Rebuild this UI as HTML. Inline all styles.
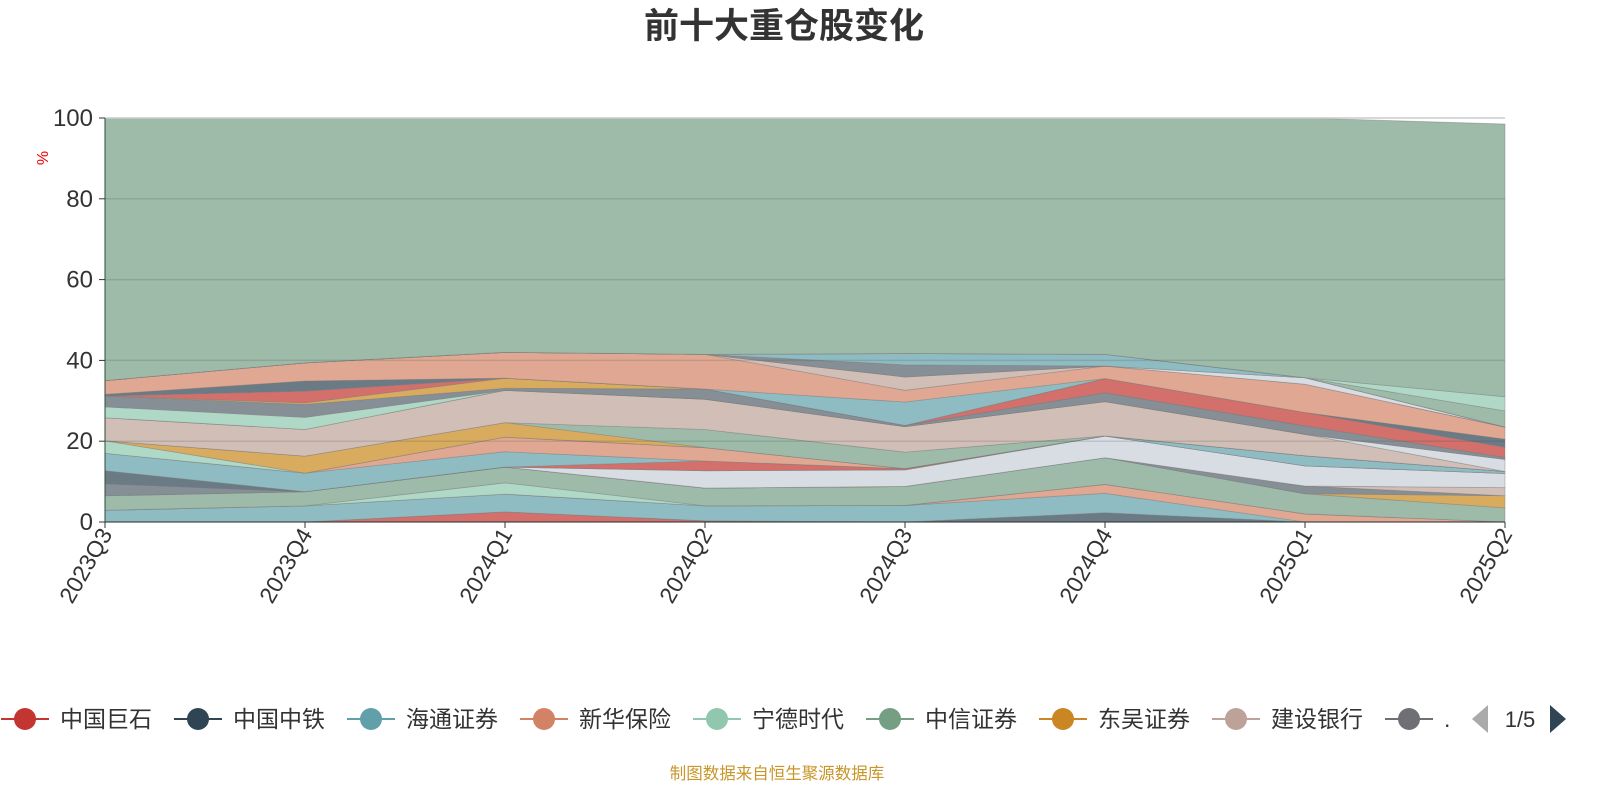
<!DOCTYPE html>
<html><head><meta charset="utf-8">
<style>
body{margin:0;background:#fff;width:1600px;height:800px;overflow:hidden;font-family:"Liberation Sans","Noto Sans CJK SC",sans-serif;}
svg text{font-family:"Liberation Sans","Noto Sans CJK SC",sans-serif;}
</style></head>
<body>
<svg id="chart" width="1600" height="800" viewBox="0 0 1600 800" xmlns="http://www.w3.org/2000/svg">
<text x="784" y="38" text-anchor="middle" font-size="35" font-weight="bold" fill="#333">前十大重仓股变化</text>
<g id="areas"></g>
<g id="grid"></g>
<g id="axes"></g>
<text x="48" y="158" font-size="16" fill="#e00" transform="rotate(-90 48 158)" text-anchor="middle">%</text>
<g id="legend"></g>
<text x="777" y="779" text-anchor="middle" font-size="16.5" fill="#c8962a">制图数据来自恒生聚源数据库</text>
</svg>
<script>
const categories=["2023Q3","2023Q4","2024Q1","2024Q2","2024Q3","2024Q4","2025Q1","2025Q2"];
const yTicks=[0,20,40,60,80,100];
const legendNames=["中国巨石","中国中铁","海通证券","新华保险","宁德时代","中信证券","东吴证券","建设银行","."];
const legendColors=["#c23531","#2f4554","#61a0a8","#d48265","#91c7ae","#749f83","#ca8622","#bda29a","#6e7074"];
const s01=[0,0,2.5,0.3,0,0,0,0];
const s02=[0,0,0,0,0,2.3,0,0];
const s03=[2.9,4,4.4,3.7,4.1,4.8,0,0];
const s04=[0,0,0,0,0,2.2,2,0];
const s05=[0,0,2.8,0,0,0,0,0];
const s06=[3.6,3.5,3.9,4.4,4.7,6.6,5,3.5];
const s07=[0,0,0,0,0,0,0,3];
const s08=[3,0,0,0,0,0,1.9,0];
const s09=[0,0,0,0,0,0,0,2];
const s10=[0,0,0,4.3,4.1,5.4,5,3.5];
const s11=[3.2,0,0,0,0,0,0,0];
const s12=[0,0,0,2.4,0.3,0,0,0];
const s13=[4.3,4.6,3.8,0,0,0,2.5,0.5];
const s14=[0,0,3.6,3.3,0,0,0,0];
const s15=[3.1,0,0,0,0,0,0,0];
const s16=[0,4.2,3.6,0,0,0,0,0];
const s17=[0,0,0,4.5,4.1,0,0,0];
const s18=[5.7,6.6,8,7.5,6.3,8.5,5.3,0];
const s19=[0,0,0,0,0,0,0,3];
const s20=[2.7,3,0,0,0,0,0,0];
const s21=[2.7,3.2,0.5,2.5,0.3,2.2,2.1,0.5];
const s22=[0,0.4,2.5,0,0,0,0,0];
const s23=[0,2.9,0,0,0,3.5,3.3,2.5];
const s24=[0.4,2.5,0,0,0,0,0,2];
const s25=[0,0,0,0,5.8,0,0,0];
const s26=[3.4,4.5,6.4,8.6,2.9,3.1,7,3];
const s27=[0,0,0,0,3.3,0,0,0];
const s28=[0,0,0,0,0,0,1.6,0];
const s29=[0,0,0,0,3,0,0,0];
const s30=[0,0,0,0,2.8,2.9,0,0];
const s31=[0,0,0,0,0,0,0,4];
const s32=[0,0,0,0,0,0,0,3.5];
const s33=[65,60.6,58,58.5,58.3,58.5,64.3,67.5];
const series=[s01,s02,s03,s04,s05,s06,s07,s08,s09,s10,s11,s12,s13,s14,s15,s16,s17,s18,s19,s20,s21,s22,s23,s24,s25,s26,s27,s28,s29,s30,s31,s32,s33];
const fills=["#d4706c","#6b7b86","#8fbcc2","#e0a892","#afd9c6","#9dbba8","#d9ab5e","#878f96","#d1bfb7","#d8dce3","#6b7b86","#d4706c","#8fbcc2","#e0a892","#afd9c6","#d9ab5e","#9dbba8","#d1bfb7","#d8dce3","#afd9c6","#878f96","#d9ab5e","#d4706c","#6b7b86","#8fbcc2","#e0a892","#d1bfb7","#d8dce3","#878f96","#8fbcc2","#9dbba8","#afd9c6","#9ebaa8"];
const NS="http://www.w3.org/2000/svg";
const X0=105,X1=1505,Y0=522,Y1=118;
function xs(i){return X0+i*(X1-X0)/(categories.length-1);}
function ys(v){return Y0-(v/100)*(Y0-Y1);}
function mk(tag,attrs,parent){const e=document.createElementNS(NS,tag);for(const k in attrs)e.setAttribute(k,attrs[k]);parent.appendChild(e);return e;}
const areas=document.getElementById('areas');
let base=categories.map(()=>0);
series.forEach((s,si)=>{
  const top=base.map((b,i)=>b+s[i]);
  let d="M"+top.map((v,i)=>xs(i)+","+ys(v)).join(" L");
  for(let i=categories.length-1;i>=0;i--)d+=" L"+xs(i)+","+ys(base[i]);
  const p=mk('path',{d:d+"Z",fill:fills[si],stroke:"rgba(120,120,120,0.45)","stroke-width":"0.8"},areas);
  
  
  base=top;
});
const grid=document.getElementById('grid');
yTicks.forEach(t=>{
  const l=mk('line',{x1:X0,x2:X1,y1:ys(t),y2:ys(t),stroke:t===100?"#ccc":"rgba(60,80,70,0.18)","stroke-width":"1.5"},grid);
  
  
});
const axes=document.getElementById('axes');
mk('line',{x1:X0,x2:X0,y1:Y1,y2:Y0,stroke:"#2d4a3a","stroke-width":"1"},axes);
mk('line',{x1:X0,x2:X1,y1:Y0,y2:Y0,stroke:"#333","stroke-width":"1"},axes);
yTicks.forEach(t=>{
  mk('line',{x1:X0-6,x2:X0,y1:ys(t),y2:ys(t),stroke:"#333"},axes);
  const tx=mk('text',{x:X0-12,y:ys(t)+8,"text-anchor":"end","font-size":"24",fill:"#333"},axes);
  tx.textContent=t;
  
  
});
categories.forEach((c,i)=>{
  mk('line',{x1:xs(i),x2:xs(i),y1:Y0,y2:Y0+6,stroke:"#333"},axes);
  const tx=mk('text',{x:xs(i)+8,y:Y0+12,"text-anchor":"end","font-size":"23",fill:"#333",transform:"rotate(-60 "+(xs(i)+8)+" "+(Y0+12)+")"},axes);
  tx.textContent=c;
  
  
});
const legend=document.getElementById('legend');
legendNames.forEach((n,i)=>{
  const cx=25+i*173;
  const g=mk('g',{},legend);
  
  
  mk('line',{x1:cx-24,x2:cx+24,y1:719,y2:719,stroke:legendColors[i],"stroke-width":"2"},g);
  mk('circle',{cx:cx,cy:719,r:11,fill:legendColors[i]},g);
  const t=mk('text',{x:cx+35,y:727,"font-size":"23",fill:"#333"},g);
  t.textContent=n;
});
const pl=mk('polygon',{points:"1472,719 1488,705 1488,733",fill:"#aaa"},legend);


const pt=mk('text',{x:1520,y:727,"font-size":"22",fill:"#333","text-anchor":"middle"},legend);
pt.textContent="1/5";


const pr=mk('polygon',{points:"1566,719 1550,705 1550,733",fill:"#2f4554"},legend);


</script>
</body></html>
